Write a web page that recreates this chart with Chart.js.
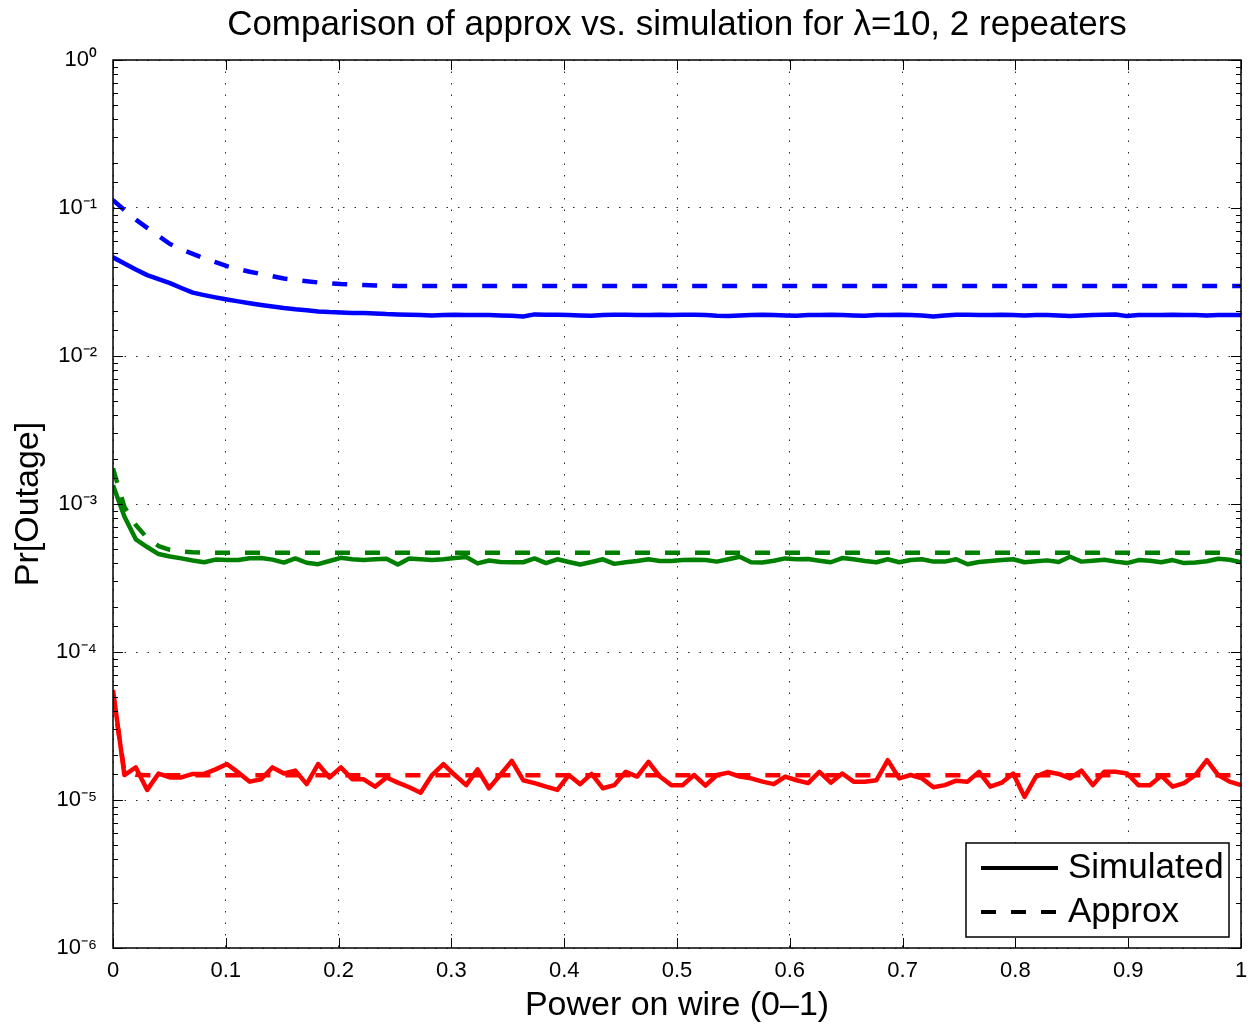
<!DOCTYPE html>
<html>
<head>
<meta charset="utf-8">
<title>Comparison of approx vs. simulation</title>
<script src="https://cdn.jsdelivr.net/npm/chart.js@4.4.0/dist/chart.umd.min.js"></script>
<style>
    body { margin: 0; background: #FFFFFF; }
    #wrap { width: 1254px; height: 1026px; }
</style>
</head>
<body>
<div id="wrap"><canvas id="canvas" width="1254" height="1026"></canvas></div>
<script>
// 100 samples of the power on the wire, 0..1
const sampleCount = 100;

const blueApprox = [
    0.113, 0.0969, 0.0836, 0.0734, 0.0648, 0.0571, 0.0525, 0.0490, 0.0457, 0.0430,
    0.0405, 0.0387, 0.0371, 0.0358, 0.0346, 0.0334, 0.0327, 0.0320, 0.0314, 0.0310,
    0.0306, 0.0304, 0.0302, 0.0300, 0.0299, 0.0297, 0.0297, 0.0297, 0.0297, 0.0297,
    0.0297, 0.0297, 0.0297, 0.0297, 0.0297, 0.0297, 0.0297, 0.0297, 0.0297, 0.0297,
    0.0297, 0.0297, 0.0297, 0.0297, 0.0297, 0.0297, 0.0297, 0.0297, 0.0297, 0.0297,
    0.0297, 0.0297, 0.0297, 0.0297, 0.0297, 0.0297, 0.0297, 0.0297, 0.0297, 0.0297,
    0.0297, 0.0297, 0.0297, 0.0297, 0.0297, 0.0297, 0.0297, 0.0297, 0.0297, 0.0297,
    0.0297, 0.0297, 0.0297, 0.0297, 0.0297, 0.0297, 0.0297, 0.0297, 0.0297, 0.0297,
    0.0297, 0.0297, 0.0297, 0.0297, 0.0297, 0.0297, 0.0297, 0.0297, 0.0297, 0.0297,
    0.0297, 0.0297, 0.0297, 0.0297, 0.0297, 0.0297, 0.0297, 0.0297, 0.0297, 0.0297
];
const blueSim = [
    0.0464, 0.0422, 0.0384, 0.0352, 0.0331, 0.0311, 0.0288, 0.0268, 0.0258, 0.0249,
    0.0241, 0.0234, 0.0227, 0.0221, 0.0216, 0.0211, 0.0207, 0.0204, 0.0200, 0.0198,
    0.0197, 0.0195, 0.0195, 0.0194, 0.0192, 0.0191, 0.0190, 0.0189, 0.0188, 0.0189,
    0.0190, 0.0189, 0.0189, 0.0189, 0.0188, 0.0187, 0.0185, 0.0191, 0.0190, 0.0190,
    0.0189, 0.0188, 0.0187, 0.0189, 0.0190, 0.0190, 0.0189, 0.0189, 0.0190, 0.0189,
    0.0190, 0.0190, 0.0189, 0.0187, 0.0186, 0.0188, 0.0189, 0.0190, 0.0189, 0.0188,
    0.0187, 0.0189, 0.0189, 0.0190, 0.0189, 0.0188, 0.0187, 0.0189, 0.0189, 0.0190,
    0.0189, 0.0188, 0.0185, 0.0188, 0.0190, 0.0190, 0.0189, 0.0189, 0.0190, 0.0189,
    0.0188, 0.0189, 0.0189, 0.0188, 0.0186, 0.0188, 0.0189, 0.0190, 0.0191, 0.0186,
    0.0189, 0.0189, 0.0189, 0.0190, 0.0189, 0.0189, 0.0188, 0.0189, 0.0189, 0.0189
];
const greenApprox = [
    0.00174, 0.000955, 0.000721, 0.000589, 0.000520, 0.000489, 0.000478, 0.000472, 0.000469, 0.000469,
    0.000469, 0.000469, 0.000469, 0.000469, 0.000469, 0.000469, 0.000469, 0.000469, 0.000469, 0.000469,
    0.000469, 0.000469, 0.000469, 0.000469, 0.000469, 0.000469, 0.000469, 0.000469, 0.000469, 0.000469,
    0.000469, 0.000469, 0.000469, 0.000469, 0.000469, 0.000469, 0.000469, 0.000469, 0.000469, 0.000469,
    0.000469, 0.000469, 0.000469, 0.000469, 0.000469, 0.000469, 0.000469, 0.000469, 0.000469, 0.000469,
    0.000469, 0.000469, 0.000469, 0.000469, 0.000469, 0.000469, 0.000469, 0.000469, 0.000469, 0.000469,
    0.000469, 0.000469, 0.000469, 0.000469, 0.000469, 0.000469, 0.000469, 0.000469, 0.000469, 0.000469,
    0.000469, 0.000469, 0.000469, 0.000469, 0.000469, 0.000469, 0.000469, 0.000469, 0.000469, 0.000469,
    0.000469, 0.000469, 0.000469, 0.000469, 0.000469, 0.000469, 0.000469, 0.000469, 0.000469, 0.000469,
    0.000469, 0.000469, 0.000469, 0.000469, 0.000469, 0.000469, 0.000469, 0.000469, 0.000469, 0.000469
];
const greenSim = [
    0.00134, 0.000824, 0.000577, 0.000512, 0.000459, 0.000442, 0.000429, 0.000415, 0.000404, 0.000421,
    0.000419, 0.000418, 0.000430, 0.000432, 0.000421, 0.000402, 0.000429, 0.000401, 0.000392, 0.000412,
    0.000433, 0.000424, 0.000418, 0.000424, 0.000426, 0.000390, 0.000428, 0.000424, 0.000419, 0.000424,
    0.000431, 0.000438, 0.000397, 0.000415, 0.000406, 0.000404, 0.000404, 0.000429, 0.000399, 0.000423,
    0.000406, 0.000390, 0.000406, 0.000423, 0.000394, 0.000404, 0.000412, 0.000423, 0.000412, 0.000412,
    0.000418, 0.000420, 0.000418, 0.000408, 0.000423, 0.000440, 0.000404, 0.000402, 0.000414, 0.000429,
    0.000423, 0.000425, 0.000414, 0.000404, 0.000431, 0.000423, 0.000412, 0.000404, 0.000423, 0.000404,
    0.000418, 0.000423, 0.000408, 0.000408, 0.000423, 0.000392, 0.000406, 0.000412, 0.000418, 0.000423,
    0.000404, 0.000410, 0.000416, 0.000406, 0.000440, 0.000408, 0.000414, 0.000420, 0.000408, 0.000399,
    0.000418, 0.000414, 0.000404, 0.000418, 0.000399, 0.000402, 0.000410, 0.000427, 0.000420, 0.000404
];
const redApprox = [
    5.2e-5, 1.55e-5, 1.48e-5, 1.47e-5, 1.47e-5, 1.47e-5, 1.47e-5, 1.47e-5, 1.47e-5, 1.47e-5,
    1.47e-5, 1.47e-5, 1.47e-5, 1.47e-5, 1.47e-5, 1.47e-5, 1.47e-5, 1.47e-5, 1.47e-5, 1.47e-5,
    1.47e-5, 1.47e-5, 1.47e-5, 1.47e-5, 1.47e-5, 1.47e-5, 1.47e-5, 1.47e-5, 1.47e-5, 1.47e-5,
    1.47e-5, 1.47e-5, 1.47e-5, 1.47e-5, 1.47e-5, 1.47e-5, 1.47e-5, 1.47e-5, 1.47e-5, 1.47e-5,
    1.47e-5, 1.47e-5, 1.47e-5, 1.47e-5, 1.47e-5, 1.47e-5, 1.47e-5, 1.47e-5, 1.47e-5, 1.47e-5,
    1.47e-5, 1.47e-5, 1.47e-5, 1.47e-5, 1.47e-5, 1.47e-5, 1.47e-5, 1.47e-5, 1.47e-5, 1.47e-5,
    1.47e-5, 1.47e-5, 1.47e-5, 1.47e-5, 1.47e-5, 1.47e-5, 1.47e-5, 1.47e-5, 1.47e-5, 1.47e-5,
    1.47e-5, 1.47e-5, 1.47e-5, 1.47e-5, 1.47e-5, 1.47e-5, 1.47e-5, 1.47e-5, 1.47e-5, 1.47e-5,
    1.47e-5, 1.47e-5, 1.47e-5, 1.47e-5, 1.47e-5, 1.47e-5, 1.47e-5, 1.47e-5, 1.47e-5, 1.47e-5,
    1.47e-5, 1.47e-5, 1.47e-5, 1.47e-5, 1.47e-5, 1.47e-5, 1.47e-5, 1.47e-5, 1.47e-5, 1.47e-5
];
const redSim = [
    5.53e-5, 1.475e-5, 1.66e-5, 1.17e-5, 1.51e-5, 1.42e-5, 1.42e-5, 1.50e-5, 1.50e-5, 1.61e-5,
    1.75e-5, 1.53e-5, 1.33e-5, 1.38e-5, 1.66e-5, 1.51e-5, 1.58e-5, 1.28e-5, 1.75e-5, 1.42e-5,
    1.66e-5, 1.38e-5, 1.38e-5, 1.23e-5, 1.42e-5, 1.31e-5, 1.22e-5, 1.12e-5, 1.475e-5, 1.75e-5,
    1.475e-5, 1.26e-5, 1.61e-5, 1.20e-5, 1.48e-5, 1.84e-5, 1.36e-5, 1.30e-5, 1.23e-5, 1.17e-5,
    1.475e-5, 1.28e-5, 1.50e-5, 1.20e-5, 1.26e-5, 1.55e-5, 1.44e-5, 1.81e-5, 1.44e-5, 1.26e-5,
    1.26e-5, 1.475e-5, 1.25e-5, 1.475e-5, 1.53e-5, 1.44e-5, 1.40e-5, 1.33e-5, 1.28e-5, 1.44e-5,
    1.36e-5, 1.30e-5, 1.55e-5, 1.31e-5, 1.51e-5, 1.33e-5, 1.33e-5, 1.36e-5, 1.86e-5, 1.40e-5,
    1.475e-5, 1.40e-5, 1.22e-5, 1.26e-5, 1.35e-5, 1.33e-5, 1.55e-5, 1.23e-5, 1.31e-5, 1.51e-5,
    1.05e-5, 1.44e-5, 1.55e-5, 1.50e-5, 1.40e-5, 1.58e-5, 1.26e-5, 1.55e-5, 1.55e-5, 1.51e-5,
    1.26e-5, 1.26e-5, 1.46e-5, 1.23e-5, 1.30e-5, 1.475e-5, 1.86e-5, 1.475e-5, 1.33e-5, 1.26e-5
];

const titleText = "Comparison of approx vs. simulation for \u03bb=10, 2 repeaters";
const xTitle = "Power on wire (0\u20131)";
const yTitle = "Pr[Outage]";
const legendLabels = ["Simulated", "Approx"];

const fontFamily = "'Liberation Sans', Arial, Helvetica, sans-serif";
const sup = {"-": "\u207b", "0": "\u2070", "1": "\u00b9", "2": "\u00b2", "3": "\u00b3",
             "4": "\u2074", "5": "\u2075", "6": "\u2076"};

// x grid of the sweep (linspace 0..1)
const power = [];
for (let i = 0; i < sampleCount; i++) power.push(i / (sampleCount - 1));

const toPoints = function (vals) {
    return vals.map((v, i) => ({x: power[i], y: v}));
};

const isDecade = function (v) {
    const l = Math.log10(v);
    return Math.abs(l - Math.round(l)) < 1e-6;
};

const line = function (label, vals, color, dashed) {
    return {
        label: label,
        data: toPoints(vals),
        borderColor: color,
        backgroundColor: color,
        borderWidth: 4.5,
        borderDash: dashed ? [15, 15] : [],
        borderCapStyle: "butt",
        borderJoinStyle: "round",
        pointRadius: 0,
        tension: 0,
        fill: false
    };
};

// box, inward ticks and the legend, drawn the matlab way
const frame = {
    id: "frame",
    afterDraw(chart) {
        const ctx = chart.ctx;
        const a = chart.chartArea;
        const xs = chart.scales.x;
        const ys = chart.scales.y;
        ctx.save();
        ctx.strokeStyle = "#000";
        ctx.lineWidth = 1;
        ctx.setLineDash([]);
        ctx.beginPath();
        xs.ticks.forEach(t => {
            const px = Math.round(xs.getPixelForValue(t.value)) + 0.5;
            ctx.moveTo(px, a.bottom); ctx.lineTo(px, a.bottom - 10);
            ctx.moveTo(px, a.top); ctx.lineTo(px, a.top + 10);
        });
        ys.ticks.forEach(t => {
            const py = Math.round(ys.getPixelForValue(t.value)) + 0.5;
            const len = isDecade(t.value) ? 10 : 5;
            ctx.moveTo(a.left, py); ctx.lineTo(a.left + len, py);
            ctx.moveTo(a.right, py); ctx.lineTo(a.right - len, py);
        });
        ctx.stroke();
        ctx.lineWidth = 1.5;
        ctx.strokeRect(a.left, a.top, a.right - a.left, a.bottom - a.top);

        // legend box
        const w = 263, h = 94;
        const lx = a.right - 12 - w;
        const ly = a.bottom - 11 - h;
        ctx.fillStyle = "#FFFFFF";
        ctx.fillRect(lx, ly, w, h);
        ctx.strokeRect(lx, ly, w, h);
        ctx.lineWidth = 4;
        ctx.lineCap = "butt";
        [25, 69].forEach((dy, k) => {
            ctx.setLineDash(k === 0 ? [] : [15, 15]);
            ctx.beginPath();
            ctx.moveTo(lx + 15, ly + dy);
            ctx.lineTo(lx + 92, ly + dy);
            ctx.stroke();
        });
        ctx.setLineDash([]);
        ctx.fillStyle = "#000";
        ctx.font = "35px " + fontFamily;
        ctx.textBaseline = "middle";
        ctx.textAlign = "left";
        ctx.fillText(legendLabels[0], lx + 102, ly + 25);
        ctx.fillText(legendLabels[1], lx + 102, ly + 69);
        ctx.restore();
    }
};

Chart.defaults.font.family = fontFamily;
Chart.defaults.color = "#000";

const ctx = document.getElementById("canvas").getContext("2d");
new Chart(ctx, {
    type: "line",
    data: {
        datasets: [
            line("Simulated", blueSim, "#0000FF", false),
            line("Approx", blueApprox, "#0000FF", true),
            line("Simulated", greenSim, "#008000", false),
            line("Approx", greenApprox, "#008000", true),
            line("Simulated", redSim, "#FF0000", false),
            line("Approx", redApprox, "#FF0000", true)
        ]
    },
    options: {
        responsive: false,
        animation: false,
        devicePixelRatio: 1,
        layout: {padding: {left: 0, right: 13, top: 0, bottom: 0}},
        plugins: {
            legend: {display: false},
            tooltip: {enabled: false},
            title: {
                display: true,
                fullSize: false,
                text: titleText,
                color: "#000",
                font: {size: 35, weight: "normal"},
                padding: {top: 4, bottom: 14}
            }
        },
        scales: {
            x: {
                type: "linear",
                min: 0,
                max: 1,
                afterFit: s => { s.height = 78; s.paddingRight = 0; s.paddingLeft = 0; },
                ticks: {
                    stepSize: 0.1,
                    padding: 10,
                    maxRotation: 0,
                    autoSkip: false,
                    font: {size: 22},
                    callback: v => String(Math.round(v * 10) / 10)
                },
                grid: {color: "rgba(0,0,0,0.85)", lineWidth: 1, drawTicks: false},
                border: {display: false, dash: [1.5, 10]},
                title: {display: true, text: xTitle, font: {size: 34}, padding: {top: 0, bottom: 0}}
            },
            y: {
                type: "logarithmic",
                min: 1e-6,
                max: 1,
                afterFit: s => { s.width = 113; },
                ticks: {
                    padding: 16,
                    autoSkip: false,
                    font: {size: 22},
                    callback: function (v) {
                        if (!isDecade(v)) return "";
                        const e = String(Math.round(Math.log10(v)));
                        return "10" + e.split("").map(c => sup[c]).join("");
                    }
                },
                grid: {
                    color: c => (c.tick && isDecade(c.tick.value)) ? "rgba(0,0,0,0.85)" : "rgba(0,0,0,0)",
                    lineWidth: 1,
                    drawTicks: false
                },
                border: {display: false, dash: [1.5, 10]},
                title: {display: true, text: yTitle, font: {size: 34}, padding: {top: 8, bottom: 0}}
            }
        }
    },
    plugins: [frame]
});
</script>
</body>
</html>
